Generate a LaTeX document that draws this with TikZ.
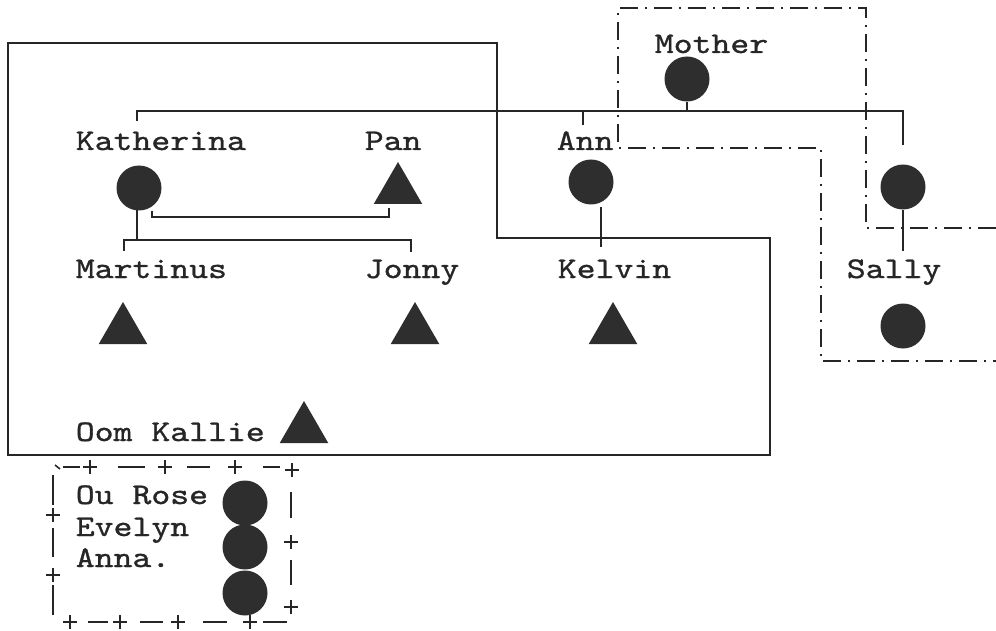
\documentclass[tikz,border=0pt]{standalone}
\usepackage{fontspec}
\setmainfont{lmmono10-regular.otf}[FakeStretch=1.2,FakeBold=1.0]
\usetikzlibrary{shapes.geometric}
\begin{document}
\begin{tikzpicture}[x=1pt,y=-1pt,
  line width=1.6pt, color={black!85},
  fem/.style={circle,fill=black!82,draw=none,minimum size=45pt,inner sep=0pt},
  male/.style={regular polygon,regular polygon sides=3,fill=black!82,draw=none,minimum size=56pt,inner sep=0pt},
  lbl/.style={anchor=base west,inner sep=0pt,font=\fontsize{30}{32}\selectfont,text=black!85},
  dashdot/.style={line width=1.5pt,dash pattern=on 18pt off 7pt on 2pt off 7pt},
  pb/.style={line width=1.5pt},
  kin/.style={line width=1.6pt}]
\useasboundingbox (0,0) rectangle (996,631);
\fill[white] (0,0) rectangle (996,631);

% big solid box
\draw[kin] (8,43) -- (497,43) -- (497,238) -- (770,238) -- (770,455) -- (8,455) -- cycle;

% dash-dot boundary
\draw[dashdot] (996,228) -- (866,228) -- (866,8) -- (618,8) -- (618,148) -- (821,148) -- (821,361) -- (996,361);

% people
\node[fem] (mother) at (687,79) {};
\node[lbl] (tmother) at (654,53) {Mother};

\node[fem] (kath) at (139,188) {};
\node[lbl] (tkath) at (75,150) {Katherina};
\node[male] (pan) at (398,190) {};
\node[lbl] (tpan) at (364,150) {Pan};
\node[fem] (ann) at (591,182) {};
\node[lbl] (tann) at (556,150) {Ann};
\node[fem] (sally1) at (903,187) {};
\node[fem] (sally2) at (903,326) {};
\node[lbl] (tsally) at (846,278) {Sally};

\node[male] (mart) at (123,330) {};
\node[lbl] (tmart) at (75,278) {Martinus};
\node[male] (jonny) at (415,330) {};
\node[lbl] (tjonny) at (364,278) {Jonny};
\node[male] (kelvin) at (613,330) {};
\node[lbl] (tkelvin) at (557,278) {Kelvin};

\node[male] (oom) at (304,429) {};
\node[lbl] (toom) at (75,441) {Oom Kallie};

\node[fem] (rose) at (245,503) {};
\node[fem] (evelyn) at (245,547) {};
\node[fem] (anna) at (245,593) {};
\node[lbl] (trose) at (75,504) {Ou Rose};
\node[lbl] (tevelyn) at (75,536) {Evelyn};
\node[lbl] (tanna) at (75,567) {Anna.};

% sibling bar under Mother
\coordinate (barL) at (137,111);
\coordinate (barR) at (903,111);
\draw[kin] (mother.south) -- (mother.south |- barL);
\draw[kin] (137,121) -- (barL) -- (barR) -- (903,145);
\draw[kin] (583,111) -- (583,125);

% Katherina -- Pan marriage
\coordinate (m1) at (152,217);
\coordinate (m2) at (389,217);
\draw[kin] (152,211) -- (m1) -- (m2) -- (389,208);

% Katherina children
\coordinate (c1) at (124,240);
\coordinate (c2) at (411,240);
\draw[kin] (137,210) -- (137,240);
\draw[kin] (124,251) -- (c1) -- (c2) -- (411,252);

% Ann -- Kelvin
\draw[kin] (601,207) -- (601,247);

% Sally link
\draw[kin] (sally1.south) -- (903,251);

% dashed box with crosses (drawn piece by piece)
% top edge y=467
\draw[pb] (55,465) -- (60,469);
\foreach \a/\b in {63/80,118/145,187/210,263/280}{\draw[pb] (\a,467) -- (\b,467);}
% bottom edge y=622
\foreach \a/\b in {88/108,140/163,203/227,263/287}{\draw[pb] (\a,622) -- (\b,622);}
% left edge x=53
\foreach \a/\b in {475/505,528/557,585/615}{\draw[pb] (53,\a) -- (53,\b);}
% right edge x=291
\foreach \a/\b in {492/518,560/585}{\draw[pb] (291,\a) -- (291,\b);}
\foreach \px/\py in {90/467,165/467,235/467,292/470,
                     291/542,291/607,
                     53/515,53/575,
                     70/622,120/622,178/622,250/622}{
  \draw[pb] (\px-7,\py) -- (\px+7,\py) (\px,\py-7) -- (\px,\py+7);
}
\end{tikzpicture}
\end{document}
